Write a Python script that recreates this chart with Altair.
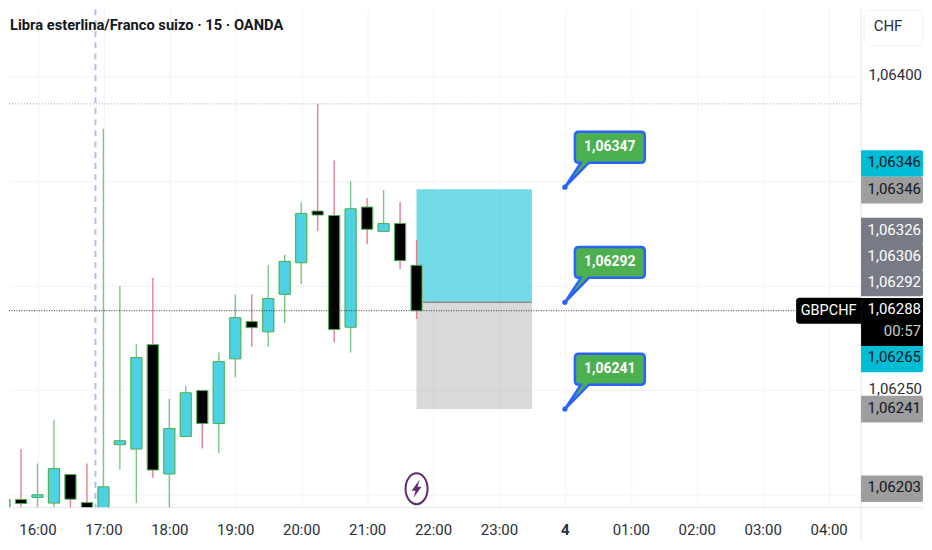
import altair as alt
import pandas as pd

FONT = "Roboto"

# ---- candles (hours since midnight of previous day; 24 = day 4)
hours = [15.5, 15.75, 16, 16.25, 16.5, 16.75, 17, 17.25, 17.5, 17.75, 18, 18.25, 18.5, 18.75,
         19, 19.25, 19.5, 19.75, 20, 20.25, 20.5, 20.75, 21, 21.25, 21.5, 21.75]
body_top = [1.061978, 1.061978, 1.062001, 1.062126, 1.062098, 1.061964, 1.062039, 1.062259,
            1.062656, 1.062718, 1.062317, 1.062488, 1.062499, 1.062637, 1.062847, 1.062828,
            1.062938, 1.063116, 1.063345, 1.063356, 1.063335, 1.063367, 1.063375, 1.063297,
            1.063297, 1.063097]
body_bot = [1.061915, 1.061959, 1.061988, 1.061961, 1.061980, 1.061910, 1.061901, 1.062240,
            1.062219, 1.062119, 1.062100, 1.062279, 1.062341, 1.062341, 1.062650, 1.062799,
            1.062779, 1.062958, 1.063109, 1.063337, 1.062790, 1.062801, 1.063269, 1.063259,
            1.063119, 1.062880]
high = [1.061978, 1.062219, 1.062150, 1.062357, 1.062098, 1.062150, 1.063749, 1.062998,
        1.062720, 1.063038, 1.062460, 1.062520, 1.062499, 1.062680, 1.062958, 1.062958,
        1.063098, 1.063147, 1.063397, 1.063868, 1.063598, 1.063498, 1.063417, 1.063456,
        1.063399, 1.063218]
low = [1.061900, 1.061915, 1.061915, 1.061925, 1.061915, 1.061900, 1.061890, 1.062120,
       1.061961, 1.062082, 1.061915, 1.062279, 1.062222, 1.062200, 1.062561, 1.062708,
       1.062708, 1.062820, 1.063009, 1.063260, 1.062728, 1.062680, 1.063198, 1.063259,
       1.063079, 1.062841]
direction = ["up", "down", "up", "up", "down", "down", "up", "up", "up", "down", "up", "up",
             "down", "up", "up", "down", "up", "up", "up", "down", "down", "up", "down", "up",
             "down", "down"]

# ---- price tags on the right-hand scale
tag_labels = ["1,06346", "1,06346", "1,06326", "1,06306", "1,06292", "1,06265", "1,06241", "1,06203"]
tag_levels = [1.063583, 1.063456, 1.063260, 1.063136, 1.063012, 1.062650, 1.062410, 1.062030]
tag_kinds = ["cyan", "gray", "slate", "slate", "slate", "cyan", "gray", "gray"]

# ---- position tool and callouts
pos_start, pos_end = 21.75, 23.5
pos_top, pos_mid, pos_bot = 1.06346, 1.06292, 1.06241
callout_hour = 24
callout_prices = [1.06347, 1.06292, 1.06241]
callout_labels = ["1,06347", "1,06292", "1,06241"]
last_price = 1.06288
session_high = 1.063868
cursor_hour = 16.879

xticks = [16, 17, 18, 19, 20, 21, 22, 23, 24, 25, 26, 27, 28]
yticks = [1.064, 1.0635, 1.063, 1.0625, 1.062]

W, H = 853, 499
RIGHT = 915
PX = 209600.0  # pixels per price unit
x_scale = alt.Scale(domain=[15.568, 28.4924], nice=False, zero=False, padding=0)
y_scale = alt.Scale(domain=[1.0619389, 1.0643197], nice=False, zero=False, padding=0)

x_axis = alt.Axis(values=xticks, grid=True, gridColor="#f3f4fb", gridWidth=1, domain=False, ticks=False,
                  labelExpr="datum.value < 24 ? datum.value + ':00' : datum.value == 24 ? '4' : '0' + (datum.value - 24) + ':00'",
                  labelFont=FONT, labelFontSize=15, labelColor="#2a2e39", labelPadding=15, labelOverlap=False,
                  labelFontWeight=alt.expr("datum.value == 24 ? 'bold' : 'normal'"), labelFlush=False, title=None)
# the other scale labels sit hidden behind the price tags in the reference
y_axis = alt.Axis(orient="right", values=yticks, grid=True, gridColor="#f3f4fb", gridWidth=1, domain=False, ticks=False,
                  labelExpr="datum.value == 1.064 || datum.value == 1.0625 ? replace(format(datum.value, '.5f'), '.', ',') : ''",
                  labelFont=FONT, labelFontSize=15, labelColor="#2a2e39", labelPadding=7, labelOverlap=False,
                  labelOffset=-2, labelFlush=False, title=None)


def X(f):
    return alt.X(f, type="quantitative", scale=x_scale, axis=x_axis)


def Y(f):
    return alt.Y(f, type="quantitative", scale=y_scale, axis=y_axis)


candles = pd.DataFrame(dict(h=hours, top=body_top, bot=body_bot, high=high, low=low, dir=direction))
tags = pd.DataFrame(dict(label=tag_labels, level=tag_levels, kind=tag_kinds))
tags["t"] = tags.level + 13.3 / PX
tags["b"] = tags.level - 13.3 / PX
calls = pd.DataFrame(dict(h=[callout_hour] * 3, p=callout_prices, label=callout_labels))
one = pd.DataFrame(dict(h=[pos_start], e=[pos_end], top=[pos_top], mid=[pos_mid], bot=[pos_bot],
                        last=[last_price], high=[session_high], cur=[cursor_hour],
                        last_t=[last_price + 13 / PX], last_b=[last_price - 13 / PX],
                        timer=[1.062783], bolt=[1.06203]))

layers = []
# grid-bearing base layer and vertical cursor
layers.append(alt.Chart(one).mark_rule(color="#a9c4ee", strokeWidth=2, strokeDash=[6, 5]).encode(
    x=X("cur"), y=alt.value(0), y2=alt.value(H)))
layers.append(alt.Chart(one).mark_rule(color="#a0a0a6", strokeWidth=1, strokeDash=[1, 2]).encode(y=Y("high")))
# position tool
layers.append(alt.Chart(one).mark_rect(fill="#00bcd4", fillOpacity=0.55).encode(
    x=X("h"), x2="e", y=Y("top"), y2="mid"))
layers.append(alt.Chart(one).mark_rect(fill="#8c8c8c", fillOpacity=0.33).encode(
    x=X("h"), x2="e", y=Y("mid"), y2="bot"))
layers.append(alt.Chart(one).mark_rule(color="#8d8d8d", strokeWidth=1.5).encode(x=X("h"), x2="e", y=Y("mid")))
# candles
layers.append(alt.Chart(candles).mark_rule(strokeWidth=1.4, clip=True).encode(
    x=X("h"), y=Y("high"), y2="low",
    color=alt.Color("dir:N", legend=None, scale=alt.Scale(domain=["up", "down"], range=["#7cc783", "#e87d90"]))))
layers.append(alt.Chart(candles).mark_bar(size=13, orient="vertical", fill="#c8e8ca", clip=True).encode(
    x=X("h"), y=Y("top"), y2="bot"))
layers.append(alt.Chart(candles).mark_bar(size=11, orient="vertical", stroke="#4caf50", strokeWidth=1, clip=True).encode(
    x=X("h"), y=Y("top"), y2="bot",
    fill=alt.Fill("dir:N", legend=None, scale=alt.Scale(domain=["up", "down"], range=["#4dd2e3", "#000000"]))))
# last price line
layers.append(alt.Chart(one).mark_rule(color="#333333", strokeWidth=1, strokeDash=[1, 1.5]).encode(
    y=Y("last"), x=alt.value(0), x2=alt.value(788)))
# axes frame
layers.append(alt.Chart(one).mark_rule(color="#e3e5ec", strokeWidth=1).encode(x=alt.value(0), x2=alt.value(RIGHT), y=alt.value(H)))
layers.append(alt.Chart(one).mark_rule(color="#e3e5ec", strokeWidth=1).encode(x=alt.value(W), y=alt.value(0), y2=alt.value(532)))
# callouts
TAIL = ("M 14 -55.5 H 76 Q 80 -55.5 80 -51.5 V -28.5 Q 80 -24.5 76 -24.5 H 24 L 0 0 L 16 -24.5 H 14 "
        "Q 10 -24.5 10 -28.5 V -51.5 Q 10 -55.5 14 -55.5 Z")
layers.append(alt.Chart(calls).mark_point(shape=TAIL, size=4, filled=True, fill="#4caf50", stroke="#2962ff",
                                          strokeWidth=2.5, opacity=1).encode(x=X("h"), y=Y("p")))
layers.append(alt.Chart(calls).mark_point(shape="circle", size=28, filled=True, fill="#2962ff", opacity=1).encode(
    x=X("h"), y=Y("p")))
layers.append(alt.Chart(calls).mark_text(font=FONT, fontSize=14, fontWeight="bold", color="#ffffff", dx=45, dy=-40).encode(
    x=X("h"), y=Y("p"), text="label:N"))
# lightning icon
ELL = "M -11 0 A 11 15.5 0 1 1 11 0 A 11 15.5 0 1 1 -11 0 Z"
BOLT = "M 3 -9 L -5 2 L -1 2 L -3 9 L 5 -2 L 1 -2 Z"
layers.append(alt.Chart(one).mark_point(shape=ELL, size=4, fill="#ffffff", filled=True, stroke="#5d2c71", strokeWidth=2, opacity=1).encode(
    x=X("h"), y=Y("bolt")))
layers.append(alt.Chart(one).mark_point(shape=BOLT, size=4, filled=True, fill="#5d2c71", opacity=1).encode(
    x=X("h"), y=Y("bolt")))
# scale tags
layers.append(alt.Chart(tags).mark_rect(cornerRadiusTopRight=2, cornerRadiusBottomRight=2).encode(
    x=alt.value(W), x2=alt.value(RIGHT), y=Y("t"), y2="b",
    fill=alt.Fill("kind:N", legend=None, scale=alt.Scale(domain=["cyan", "gray", "slate"], range=["#00bcd4", "#9e9e9e", "#787b86"]))))
layers.append(alt.Chart(tags).mark_text(font=FONT, fontSize=15, align="right", dy=-1.5).encode(
    x=alt.value(913), y=Y("level"), text="label:N",
    color=alt.Color("kind:N", legend=None, scale=alt.Scale(domain=["cyan", "gray", "slate"], range=["#131722", "#131722", "#ffffff"]))))
# last price tags
layers.append(alt.Chart(one).mark_rect(fill="#000000").encode(
    x=alt.value(W), x2=alt.value(RIGHT), y=alt.value(289), y2=alt.value(337)))
layers.append(alt.Chart(one).mark_text(font=FONT, fontSize=15, align="right", dy=-1.5, color="#ffffff", text="1,06288").encode(
    x=alt.value(913), y=Y("last")))
layers.append(alt.Chart(one).mark_text(font=FONT, fontSize=15, align="right", color="#c9c9c9", text="00:57").encode(
    x=alt.value(913), y=Y("timer")))
layers.append(alt.Chart(one).mark_rect(fill="#000000", cornerRadiusTopLeft=3, cornerRadiusBottomLeft=3).encode(
    x=alt.value(788), x2=alt.value(W), y=Y("last_t"), y2="last_b"))
layers.append(alt.Chart(one).mark_text(font=FONT, fontSize=14.5, color="#ffffff", text="GBPCHF").encode(
    x=alt.value(820.5), y=Y("last")))
# currency button
layers.append(alt.Chart(one).mark_rect(fill="#ffffff", stroke="#f0f1f5", cornerRadius=6).encode(
    x=alt.value(856), x2=alt.value(RIGHT), y=alt.value(1), y2=alt.value(37)))
layers.append(alt.Chart(one).mark_text(font=FONT, fontSize=15, color="#2a2e39", text="CHF").encode(
    x=alt.value(880), y=alt.value(17)))
# title
layers.append(alt.Chart(one).mark_text(font=FONT, fontSize=14.7, fontWeight="bold", color="#131722", align="left",
                                       text="Libra esterlina/Franco suizo · 15 · OANDA").encode(
    x=alt.value(1), y=alt.value(17)))

chart = alt.layer(*layers).resolve_scale(color="independent", fill="independent").properties(
    width=W, height=H, padding=0, background="#ffffff").configure_view(stroke=None)
chart.save("out.html", embed_options={"renderer": "svg", "actions": False})
